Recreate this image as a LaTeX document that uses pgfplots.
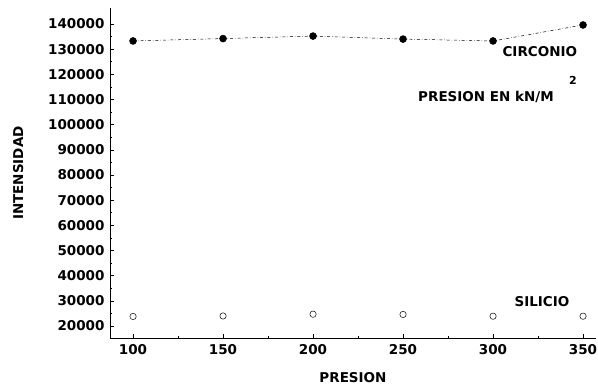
\documentclass[border=0pt]{standalone}
\usepackage{fontspec}
\setmainfont{DejaVu Sans}
\usepackage{pgfplots}
\pgfplotsset{compat=1.18}
\begin{document}
\begin{tikzpicture}[font=\fontsize{13.5bp}{16bp}\selectfont\bfseries]
\begin{axis}[
  scale only axis,
  width=486bp, height=330bp,
  xmin=87.2, xmax=357.2,
  ymin=15240, ymax=146350,
  axis x line*=bottom, axis y line*=left,
  axis line style={line width=0.8pt},
  xtick={100,150,200,250,300,350},
  xticklabels={100,150,200,250,300,350},
  ytick={20000,30000,40000,50000,60000,70000,80000,90000,100000,110000,120000,130000,140000},
  yticklabels={20000,30000,40000,50000,60000,70000,80000,90000,100000,110000,120000,130000,140000},
  scaled y ticks=false, scaled x ticks=false,
  minor tick num=1,
  tick align=inside,
  major tick length=4bp, minor tick length=2.5bp,
  tick style={black, line width=0.6pt},
  xticklabel style={yshift=-3bp},
  yticklabel style={xshift=-2bp},
  xlabel={PRESION},
  ylabel={INTENSIDAD},
  xlabel style={yshift=-11bp},
  ylabel style={yshift=18bp},
  clip=false,
]
\addplot[black, line width=0.5pt, dash dot, mark=*, mark size=3.5bp, mark options={solid}]
  coordinates {(100,133250) (150,134200) (200,135200) (250,134000) (300,133250) (350,139600)};
\addplot[black, only marks, mark=o, mark size=3.2bp, line width=0.5pt]
  coordinates {(100,23800) (150,24000) (200,24700) (250,24600) (300,23900) (350,23900)};
\node at (axis cs:326,128900) {CIRCONIO};
\node at (axis cs:296.1,111030) {PRESION EN kN/M};
\node[font=\fontsize{11bp}{13bp}\selectfont\bfseries] at (axis cs:344.4,117500) {2};
\node at (axis cs:327.2,29680) {SILICIO};
\coordinate (sw) at (rel axis cs:0,0);
\coordinate (ne) at (rel axis cs:1,1);
\end{axis}
\pgfresetboundingbox
\useasboundingbox ([xshift=-110bp,yshift=-48bp]sw) rectangle ([xshift=2bp,yshift=8bp]ne);
\end{tikzpicture}
\end{document}
